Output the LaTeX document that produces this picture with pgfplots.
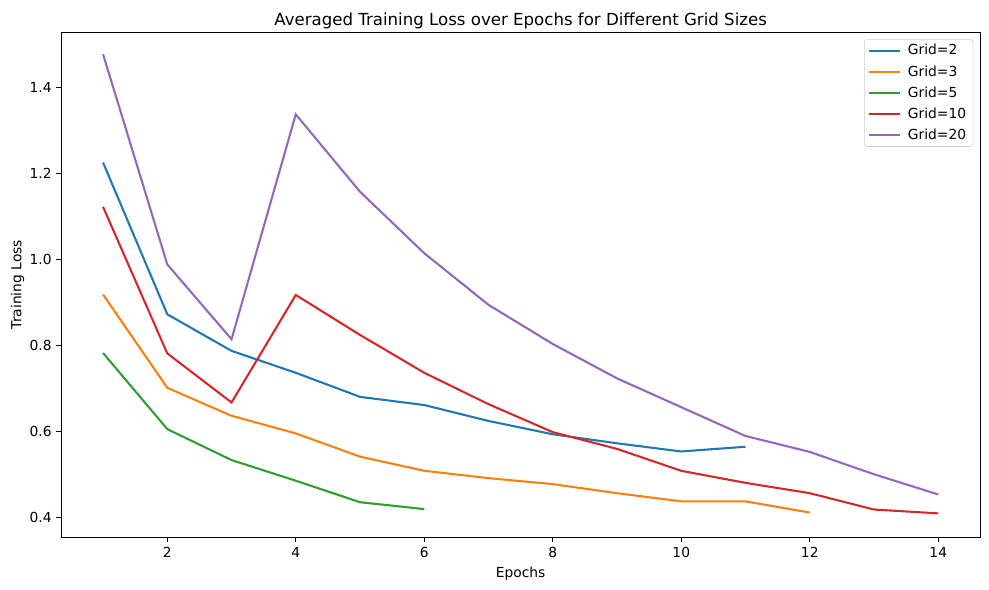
\documentclass[border=0pt]{standalone}
\usepackage{fontspec}
\setmainfont{DejaVu Sans}
\usepackage{pgfplots}
\pgfplotsset{compat=1.18}
\definecolor{c0}{HTML}{1F77B4}
\definecolor{c1}{HTML}{FF7F0E}
\definecolor{c2}{HTML}{2CA02C}
\definecolor{c3}{HTML}{D62728}
\definecolor{c4}{HTML}{9467BD}
\begin{document}
\begin{tikzpicture}
\begin{axis}[
  name=ax,
  scale only axis,
  width=664pt, height=365pt,
  xmin=0.35, xmax=14.65, ymin=0.3535, ymax=1.528,
  xtick={2,4,6,8,10,12,14},
  ytick={0.4,0.6,0.8,1.0,1.2,1.4},
  yticklabel style={/pgf/number format/.cd, fixed, fixed zerofill, precision=1},
  /pgf/number format/assume math mode=true,
  tick align=outside, major tick length=3.5pt,
  xtick pos=left, ytick pos=left,
  tick style={black, line width=0.6pt},
  axis line style={line width=0.6pt},
  ticklabel style={font=\fontsize{10}{12}\selectfont},
  label style={font=\fontsize{10}{12}\selectfont},
  every axis title shift=0pt,
  title style={font=\fontsize{12}{14}\selectfont, at={(axis description cs:0.5,1.0139)}, anchor=base, yshift=0pt},
  title={Averaged Training Loss over Epochs for Different Grid Sizes},
  xlabel={Epochs},
  ylabel={Training Loss},
  xlabel style={at={(axis description cs:0.5,-0.079)}, anchor=base},
  ylabel style={at={(axis description cs:-0.0435,0.5)}, anchor=base},
  legend style={at={(axis description cs:0.9927,0.986)}, anchor=north east,
    draw=black!20, rounded corners=2pt, font=\fontsize{10}{12}\selectfont,
    row sep=2.2pt, inner xsep=3pt, inner ysep=1.5pt},
  legend cell align=left,
  legend image code/.code={\draw[#1] (0pt,0pt) -- (21.7pt,0pt); \path (25pt,0pt);},
  every axis plot/.append style={line width=1.5pt},
]
\addplot[c0] coordinates {(1,1.225) (2,0.872) (3,0.787) (4,0.736) (5,0.680) (6,0.661) (7,0.624) (8,0.593) (9,0.572) (10,0.553) (11,0.564)};
\addlegendentry{Grid=2}
\addplot[c1] coordinates {(1,0.918) (2,0.701) (3,0.636) (4,0.595) (5,0.541) (6,0.508) (7,0.491) (8,0.477) (9,0.456) (10,0.437) (11,0.437) (12,0.411)};
\addlegendentry{Grid=3}
\addplot[c2] coordinates {(1,0.782) (2,0.605) (3,0.533) (4,0.485) (5,0.435) (6,0.419)};
\addlegendentry{Grid=5}
\addplot[c3] coordinates {(1,1.122) (2,0.781) (3,0.667) (4,0.917) (5,0.824) (6,0.736) (7,0.663) (8,0.598) (9,0.559) (10,0.508) (11,0.480) (12,0.456) (13,0.418) (14,0.409)};
\addlegendentry{Grid=10}
\addplot[c4] coordinates {(1,1.477) (2,0.988) (3,0.814) (4,1.337) (5,1.157) (6,1.014) (7,0.894) (8,0.803) (9,0.723) (10,0.656) (11,0.589) (12,0.552) (13,0.500) (14,0.453)};
\addlegendentry{Grid=20}
\end{axis}
\pgfresetboundingbox
\path[use as bounding box] ([shift={(-44.3pt,-38.1pt)}]ax.south west) rectangle ([shift={(6.5pt,23.3pt)}]ax.north east);
\end{tikzpicture}
\end{document}
